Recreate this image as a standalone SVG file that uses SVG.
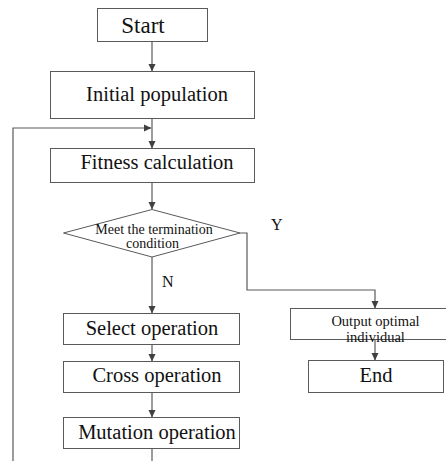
<svg xmlns="http://www.w3.org/2000/svg" width="446" height="461" viewBox="0 0 446 461">
<style>
.box{fill:#fff;stroke:#5a5a5a;stroke-width:1}
.t{fill:#111;text-anchor:middle}
.big{font-size:20.5px}
.sm{font-size:14px}
.md{font-size:14.5px}
.lbl{fill:#111;font-size:16px}
.c{fill:none;stroke:#5a5a5a;stroke-width:1.2}
</style>
<defs>
<marker id="ah" markerWidth="8" markerHeight="8" refX="7" refY="4" orient="auto" markerUnits="userSpaceOnUse">
<path d="M0,0.5 L7.5,4 L0,7.5 Z" fill="#404040"/>
</marker>
</defs>
<rect width="446" height="461" fill="#fff"/>
<g id="connectors">
<line class="c" x1="152" y1="41" x2="152" y2="71" marker-end="url(#ah)"/>
<line class="c" x1="152" y1="118" x2="152" y2="148" marker-end="url(#ah)"/>
<polyline class="c" points="13,461 13,128 151,128" marker-end="url(#ah)"/>
<line class="c" x1="152" y1="182" x2="152" y2="209" marker-end="url(#ah)"/>
<line class="c" x1="152" y1="257" x2="152" y2="313" marker-end="url(#ah)"/>
<polyline class="c" points="240,233 247,233 247,290 375,290 375,308" marker-end="url(#ah)"/>
<line class="c" x1="152" y1="344" x2="152" y2="361" marker-end="url(#ah)"/>
<line class="c" x1="152" y1="392" x2="152" y2="417" marker-end="url(#ah)"/>
<line class="c" x1="152" y1="448" x2="152" y2="461"/>
<line class="c" x1="375" y1="336" x2="375" y2="360" marker-end="url(#ah)"/>
</g>
<g font-family="Liberation Serif, DejaVu Serif, Times New Roman, serif">
<g id="start">
<rect class="box" x="97.5" y="8.5" width="110" height="33"/>
<text class="t" font-size="23" x="143" y="33">Start</text>
</g>
<g id="init">
<rect class="box" x="50.5" y="71.5" width="204" height="47"/>
<text class="t big" x="157" y="101">Initial population</text>
</g>
<g id="fitness">
<rect class="box" x="50.5" y="148.5" width="204" height="34"/>
<text class="t big" x="157" y="169">Fitness calculation</text>
</g>
<g id="decision">
<polygon class="box" points="152,209.5 240,233 152,257 63.5,233"/>
<text class="t sm" x="154" y="234">Meet the termination</text>
<text class="t sm" x="152.5" y="248">condition</text>
</g>
<g id="labels">
<text class="lbl" x="271" y="230">Y</text>
<text class="lbl" x="162" y="287">N</text>
</g>
<g id="select">
<rect class="box" x="63.5" y="313.5" width="176" height="31"/>
<text class="t big" x="152" y="335">Select operation</text>
</g>
<g id="cross">
<rect class="box" x="63.5" y="361.5" width="176" height="31"/>
<text class="t big" x="157" y="382">Cross operation</text>
</g>
<g id="mutation">
<rect class="box" x="63.5" y="417.5" width="176" height="31"/>
<text class="t big" x="157" y="439">Mutation operation</text>
</g>
<g id="output">
<rect class="box" x="290.5" y="308.5" width="156" height="31"/>
<text class="t md" x="375.5" y="326">Output optimal</text>
<text class="t md" x="375.5" y="342">individual</text>
</g>
<g id="end">
<rect class="box" x="308.5" y="360.5" width="135" height="32"/>
<text class="t big" x="376" y="382">End</text>
</g>
</g>
</svg>
